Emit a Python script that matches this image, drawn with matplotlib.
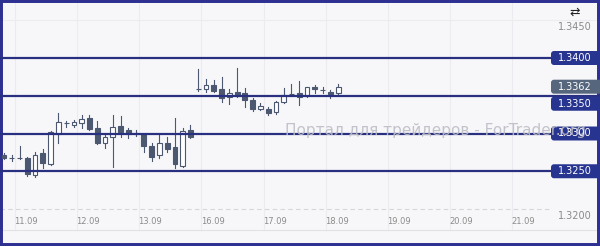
import matplotlib
matplotlib.use("Agg")
import matplotlib.pyplot as plt
from matplotlib.patches import FancyBboxPatch
from matplotlib import transforms

# OHLC candles (3h bars)
opens = [1.3272, 1.3267, 1.3268, 1.3267, 1.3245, 1.3274, 1.3259, 1.3299, 1.3314, 1.3311,
         1.3314, 1.3320, 1.3307, 1.3287, 1.3295, 1.3310, 1.3305, 1.3300, 1.3299, 1.3284,
         1.3272, 1.3287, 1.3282, 1.3257, 1.3305, 1.3359, 1.3359, 1.3364, 1.3359, 1.3349,
         1.3355, 1.3353, 1.3345, 1.3332, 1.3333, 1.3329, 1.3342, 1.3352, 1.3353, 1.3350,
         1.3362, 1.3358, 1.3355, 1.3353]
highs = [1.3274, 1.3271, 1.3283, 1.3269, 1.3275, 1.3279, 1.3303, 1.3327, 1.3317, 1.3318,
         1.3325, 1.3325, 1.3317, 1.3299, 1.3325, 1.3323, 1.3307, 1.3305, 1.3300, 1.3287,
         1.3299, 1.3295, 1.3321, 1.3307, 1.3311, 1.3385, 1.3372, 1.3371, 1.3375, 1.3359,
         1.3387, 1.3360, 1.3347, 1.3340, 1.3335, 1.3343, 1.3360, 1.3366, 1.3369, 1.3362,
         1.3364, 1.3361, 1.3358, 1.3366]
lows = [1.3266, 1.3264, 1.3266, 1.3244, 1.3243, 1.3254, 1.3258, 1.3288, 1.3309, 1.3308,
        1.3307, 1.3305, 1.3286, 1.3281, 1.3255, 1.3296, 1.3294, 1.3297, 1.3275, 1.3263,
        1.3267, 1.3276, 1.3254, 1.3256, 1.3294, 1.3356, 1.3355, 1.3355, 1.3342, 1.3339,
        1.3349, 1.3335, 1.3330, 1.3331, 1.3325, 1.3326, 1.3340, 1.3350, 1.3338, 1.3349,
        1.3354, 1.3354, 1.3347, 1.3352]
closes = [1.3267, 1.3268, 1.3267, 1.3246, 1.3272, 1.3261, 1.3302, 1.3315, 1.3314, 1.3315,
          1.3319, 1.3306, 1.3287, 1.3295, 1.3308, 1.3302, 1.3299, 1.3300, 1.3283, 1.3269,
          1.3288, 1.3279, 1.3259, 1.3303, 1.3295, 1.3359, 1.3364, 1.3356, 1.3347, 1.3353,
          1.3350, 1.3344, 1.3333, 1.3337, 1.3327, 1.3342, 1.3351, 1.3352, 1.3348, 1.3361,
          1.3359, 1.3358, 1.3352, 1.3362]

date_labels = ["11.09", "12.09", "13.09", "16.09", "17.09", "18.09", "19.09", "20.09", "21.09"]
axis_prices = [1.3450, 1.3200]
level_lines = [1.3400, 1.3350, 1.3300, 1.3250]
last_price = 1.3362

navy = "#2a3080"
bear = "#4c5870"
bg = "#f7f7fa"


def py(pix):
    # pixel row -> price, used for layout only
    return 1.32 + (209 - pix) * 0.005 / 37.75


fig = plt.figure(figsize=(6, 2.46), dpi=100)
fig.patch.set_facecolor(bg)
ax = fig.add_axes([0, 0, 1, 1])
ax.set_facecolor(bg)
ax.set_xlim(-4 / 7.77, 596 / 7.77)
ax.set_ylim(py(246), py(0))
ax.set_xticks([])
ax.set_yticks([])
for s in ax.spines.values():
    s.set_color("#2e3192")
    s.set_linewidth(4.3)

# faint grid
for k in range(9):
    ax.plot([1.4 + 8 * k] * 2, [py(230), py(3)], color="#ebebf0", lw=0.8, zorder=0)
ax.axhline(1.3450, color="#ececf0", lw=0.8, zorder=0)
ax.axhline(1.3200, xmax=551 / 600, color="#d6d6da", lw=0.8, ls=(0, (4, 3)), zorder=0)
ax.axhline(py(230), color="#e2e2e6", lw=0.8, zorder=0)

# candles
xs = list(range(len(opens)))
for i in xs:
    o, h, l, c = opens[i], highs[i], lows[i], closes[i]
    ax.plot([i, i], [l, h], color=bear, lw=0.8, zorder=2)
    up = c >= o
    ax.bar(i, max(abs(c - o), 1e-6), bottom=min(o, c), width=0.62,
           color="white" if up else bear, edgecolor=bear, linewidth=0.8, zorder=3)

# level lines
for lv in level_lines:
    ax.axhline(lv, color=navy, lw=1.6, zorder=4)

# right side price labels
tx = transforms.blended_transform_factory(transforms.IdentityTransform(), ax.transData)
for p in axis_prices:
    ax.text(575, p - 7 * 0.005 / 37.75, f"{p:.4f}", transform=tx, ha="center", va="center",
            fontsize=7, color="#8a8a8a", zorder=1)


def label_box(price, text, color, shift=0):
    # shift in pixels, used when two labels would collide
    _, yd = ax.transData.transform((0, price))
    yd -= shift
    box = FancyBboxPatch((551, yd - 7), 60, 14, boxstyle="round,pad=0,rounding_size=3",
                         transform=transforms.IdentityTransform(), fc=color, ec="none", zorder=5)
    ax.add_patch(box)
    ax.text(575, yd, text, transform=transforms.IdentityTransform(), ha="center", va="center",
            fontsize=7, color="white", zorder=7)


for lv in level_lines:
    label_box(lv, f"{lv:.4f}", "#283590", shift=8 if lv == 1.3350 else 0)
label_box(last_price, f"{last_price:.4f}", "#56667c")

# date labels
for k, d in enumerate(date_labels):
    ax.text(2.83 + 8 * k, py(222), d, ha="center", va="center", fontsize=6, color="#8c8c8c")

# watermark
ax.text(285, py(131), "Портал для трейдеров - ForTrader.org", transform=tx, ha="left", va="center",
        fontsize=11, color="#bdbdc5", alpha=0.9, zorder=6)

# icon top right
ax.text(575, py(12), "⇄", transform=tx, ha="center", va="center", fontsize=9, color="#222222")

fig.savefig("out.png", dpi=100, facecolor=bg)
